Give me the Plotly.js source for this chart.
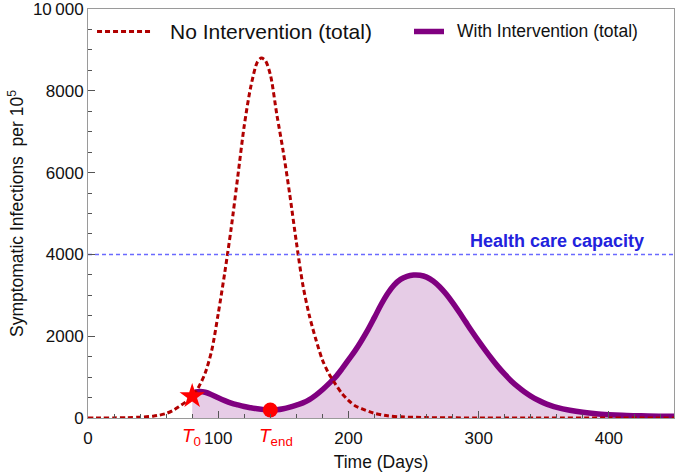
<!DOCTYPE html>
<html>
<head>
<meta charset="utf-8">
<script src="https://cdn.plot.ly/plotly-3.0.1.min.js"></script>
<style>html,body{margin:0;padding:0;background:#fff;}#chart{width:676px;height:473px;}</style>
</head>
<body>
<div id="chart"></div>
<script>
// ---- data ----
const noIntDays = [0,10,20,30,40,50,55,60,65,70,75,80,85,90,95,100,105,110,115,120,125,130,133,136,140,145,150,155,160,165,170,175,180,185,190,195,200,205,210,216,220,230,240,260,280,300,350,400,450];
const noIntVals = [0,1,3,8,20,45,70,110,180,280,390,530,760,1100,1650,2550,3550,4650,5900,7150,8100,8700,8800,8750,8400,7420,6500,5450,4300,3250,2500,1920,1420,1080,830,600,430,300,230,155,115,55,28,10,4,2,0.5,0,0];

const withIntDays = [80,83,86,90,95,100,105,110,115,120,125,130,135,140,145,150,155,160,165,170,175,180,185,190,195,200,205,210,215,220,225,230,235,240,245,250,255,260,265,270,275,280,285,290,295,300,305,310,315,320,325,330,335,340,345,350,355,360,370,380,390,400,410,420,430,440,450];
const withIntVals = [600,640,650,630,570,495,425,365,320,280,250,225,205,195,200,225,265,315,370,450,560,690,840,1000,1200,1420,1640,1890,2160,2460,2770,3040,3250,3390,3465,3495,3490,3445,3350,3210,3030,2820,2590,2350,2110,1880,1660,1450,1250,1070,905,765,640,535,445,370,310,260,190,140,105,82,66,56,49,45,42];

const capacityDays = [0,450];
const capacityVals = [4000,4000];

const T0 = 80, T0val = 530;
const Tend = 140, TendVal = 195;

const yTickVals = [10000];
const yTickText = ['10\u2009000'];

// ---- styles ----
const redDash = '#b00000';
const purple = '#800080';
const font = 'Liberation Sans, Arial, sans-serif';

const yAlias = {};
yTickVals.forEach((v, i) => { yAlias[String(v)] = yTickText[i]; });

const traces = [
  {x: withIntDays, y: withIntVals, type:'scatter', mode:'lines', fill:'tozeroy',
   fillcolor:'rgba(128,0,128,0.2)', line:{color:purple, width:5.5, shape:'spline', smoothing:1},
   name:'With Intervention (total)', showlegend:false, hoverinfo:'skip'},
  {x: noIntDays, y: noIntVals, type:'scatter', mode:'lines',
   line:{color:redDash, width:3, dash:'5px,3px', shape:'spline', smoothing:0.8},
   name:'No Intervention (total)', showlegend:false, hoverinfo:'skip'},
  {x: capacityDays, y: capacityVals, type:'scatter', mode:'lines',
   line:{color:'#6a6aff', width:1.5, dash:'4px,3px'}, name:'Health care capacity', showlegend:false, hoverinfo:'skip'},
  {x:[T0], y:[T0val], type:'scatter', mode:'markers', marker:{symbol:'star', size:19, color:'#ff0000'}, showlegend:false, hoverinfo:'skip'},
  {x:[Tend], y:[TendVal], type:'scatter', mode:'markers', marker:{symbol:'circle', size:15, color:'#ff0000'}, showlegend:false, hoverinfo:'skip'}
];

const axisCommon = {
  showline:true, mirror:true, linecolor:'#9a9a9a', linewidth:1,
  ticks:'inside', tickcolor:'#555', ticklen:7, tickwidth:1,
  showgrid:false, zeroline:false, ticklabeloverflow:'allow',
  tickfont:{family:font, size:17, color:'#111'}
};

const layout = {
  width:676, height:473,
  margin:{l:88, r:2, t:9, b:55},
  paper_bgcolor:'#fff', plot_bgcolor:'#fff',
  font:{family:font, color:'#111'},
  xaxis: Object.assign({}, axisCommon, {
    range:[0,450], tickmode:'linear', tick0:0, dtick:100,
    minor:{tick0:0, dtick:20, ticks:'inside', ticklen:4, tickcolor:'#555', showgrid:false},
    ticklabelstandoff:5,
    title:{text:'Time (Days)', font:{family:font, size:17.5, color:'#111'}, standoff:8}
  }),
  yaxis: Object.assign({}, axisCommon, {
    range:[0,10000], tickmode:'linear', tick0:0, dtick:2000, tickformat:'d', labelalias:yAlias,
    minor:{tick0:0, dtick:500, ticks:'inside', ticklen:4, tickcolor:'#555', showgrid:false},
    title:{text:'Symptomatic Infections  per 10<sup>5</sup>', font:{family:font, size:17.5, color:'#111'}, standoff:4}
  }),
  shapes:[
    {type:'line', xref:'paper', yref:'paper', x0:0.0154, x1:0.1109, y0:0.945, y1:0.945,
     line:{color:redDash, width:3, dash:'5px,3px'}},
    {type:'line', xref:'paper', yref:'paper', x0:0.5563, x1:0.6075, y0:0.945, y1:0.945,
     line:{color:purple, width:5.5}}
  ],
  annotations:[
    {xref:'paper', yref:'paper', x:0.1365, y:0.945, xanchor:'left', yanchor:'middle', showarrow:false,
     text:'No Intervention (total)', font:{family:font, size:21, color:'#111'}},
    {xref:'paper', yref:'paper', x:0.6263, y:0.945, xanchor:'left', yanchor:'middle', showarrow:false,
     text:'With Intervention (total)', font:{family:font, size:17.5, color:'#111'}},
    {xref:'x', yref:'y', x:360, y:4000, yshift:13, xanchor:'center', yanchor:'middle', showarrow:false,
     text:'<b>Health care capacity</b>', font:{family:font, size:18, color:'#2222dd'}},
    {xref:'x', yref:'paper', x:T0, y:0, yshift:-19, xshift:-1, xanchor:'center', yanchor:'middle', showarrow:false,
     text:'<i>T</i><sub>0</sub>', font:{family:font, size:19, color:'#ff0000'}},
    {xref:'x', yref:'paper', x:Tend, y:0, yshift:-19, xshift:6, xanchor:'center', yanchor:'middle', showarrow:false,
     text:'<i>T</i><sub>end</sub>', font:{family:font, size:19, color:'#ff0000'}}
  ]
};

Plotly.newPlot('chart', traces, layout, {displayModeBar:false, staticPlot:true});
</script>
</body>
</html>
